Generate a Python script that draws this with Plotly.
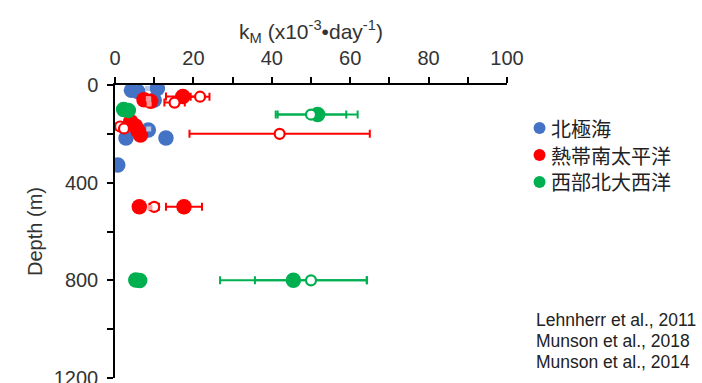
import plotly.graph_objects as go

# --- data -------------------------------------------------------------
# Arctic Ocean (北極海)
arctic_k = [4.2, 5.8, 10.8, 10.0, 8.5, 2.8, 13.0, 0.7]
arctic_depth = [22, 27, 14, 62, 184, 217, 217, 328]
arctic_sq_k = [8.3, 8.6, 8.6]
arctic_sq_depth = [14, 58, 180]

# Tropical South Pacific (熱帯南太平洋)
pac_k = [17.3, 7.4, 9.1, 4.0, 5.2, 5.9, 6.5, 6.2, 17.6]
pac_depth = [47, 60, 67, 150, 168, 188, 205, 499, 499]
pac_err = [4.3, 0, 0, 0, 0, 0, 0, 0, 4.6]
pac_open_k = [21.7, 15.2, 1.3, 2.3, 42.0, 10.0]
pac_open_depth = [48, 72, 170, 178, 200, 499]
pac_open_err = [2.4, 2.6, 1.0, 1.0, 23.0, 1.2]
pac_sq_k = [8.5, 8.7, 8.9]
pac_sq_depth = [56, 78, 502]

# Western North Atlantic (西部北大西洋)
atl_k = [2.2, 3.4, 51.7, 5.3, 6.3, 45.5]
atl_depth = [100, 104, 121, 799, 801, 800]
atl_err = [0, 0, 10.2, 0, 0, 18.7]
atl_open_k = [50.0, 50.0]
atl_open_depth = [121, 800]
atl_open_err = [9.0, 14.3]

names = ["北極海", "熱帯南太平洋", "西部北大西洋"]
colors = ["#4472C4", "#FF0000", "#00B050"]
light = ["#B4C7E7", "#FF9B9B", "#9ED9B5"]
refs = ["Lehnherr et al., 2011", "Munson et al., 2018", "Munson et al., 2014"]

x_ticks = [0, 20, 40, 60, 80, 100]
y_ticks = [0, 400, 800, 1200]

fig = go.Figure()


def err(arr, color):
    return dict(type="data", array=arr, visible=True, color=color,
                thickness=2, width=4)


def filled(x, y, color, e=None):
    fig.add_trace(go.Scatter(
        x=x, y=y, mode="markers", showlegend=False,
        marker=dict(size=15.5, color=color, line=dict(width=0)),
        error_x=err(e, color) if e else None))


def hollow(x, y, color, e):
    fig.add_trace(go.Scatter(
        x=x, y=y, mode="markers", showlegend=False,
        marker=dict(size=10, color="white", line=dict(width=2.2, color=color)),
        error_x=err(e, color)))


def squares(x, y, color):
    fig.add_trace(go.Scatter(
        x=x, y=y, mode="markers", showlegend=False,
        marker=dict(size=5, symbol="square", color=color, line=dict(width=0))))


filled(arctic_k, arctic_depth, colors[0])
filled(pac_k, pac_depth, colors[1], pac_err)
hollow(pac_open_k, pac_open_depth, colors[1], pac_open_err)
filled(atl_k, atl_depth, colors[2], atl_err)
hollow(atl_open_k, atl_open_depth, colors[2], atl_open_err)
squares(arctic_sq_k, arctic_sq_depth, light[0])
squares(pac_sq_k, pac_sq_depth, light[1])

# legend: coloured dot + region name, placed to the right of the axes
leg_x = 1.083          # paper x of the dot centres
leg_y0, leg_dy = 0.853, 0.092
for i, (name, c) in enumerate(zip(names, colors)):
    yy = leg_y0 - i * leg_dy
    fig.add_shape(type="circle", xref="paper", yref="paper",
                  xsizemode="pixel", ysizemode="pixel",
                  xanchor=leg_x, yanchor=yy, x0=-6, x1=6, y0=-6, y1=6,
                  fillcolor=c, line=dict(width=0))
    fig.add_annotation(
        text=name, xref="paper", yref="paper", x=leg_x, xshift=9, y=yy,
        xanchor="left", yanchor="middle", showarrow=False,
        font=dict(family="Noto Sans CJK JP", size=20, color="#222"))

# reference list
for i, r in enumerate(refs):
    fig.add_annotation(
        text=r, xref="paper", yref="paper", x=1.07, y=0.198 - i * 0.0715,
        xanchor="left", yanchor="middle", showarrow=False,
        font=dict(family="Liberation Sans, Arial", size=17.5, color="#222"))

axis_font = dict(family="Liberation Sans, Arial", size=20, color="#333")

fig.update_layout(
    width=702, height=383,
    margin=dict(l=115, r=195, t=85, b=5),
    paper_bgcolor="white", plot_bgcolor="white",
    font=axis_font,
    showlegend=False,
    xaxis=dict(
        side="top", range=[0, 100], tickvals=x_ticks,
        ticks="outside", ticklen=6, tickwidth=1.5, tickcolor="black",
        minor=dict(dtick=10, ticks="outside", ticklen=6, tickwidth=1.5,
                   tickcolor="black"),
        showline=True, linecolor="black", linewidth=1.5,
        showgrid=False, zeroline=False, tickfont=axis_font,
        ticklabelstandoff=4, automargin=False,
        title=dict(text="k<sub>M</sub> (x10<sup>-3</sup>•day<sup>-1</sup>)",
                   font=dict(family="Liberation Sans, Arial", size=21,
                             color="#333"), standoff=2)),
    yaxis=dict(
        range=[1200, 0], tickvals=y_ticks,
        ticks="outside", ticklen=6, tickwidth=1.5, tickcolor="black",
        minor=dict(dtick=200, ticks="outside", ticklen=6, tickwidth=1.5,
                   tickcolor="black"),
        showline=True, linecolor="black", linewidth=1.5,
        showgrid=False, zeroline=False, tickfont=axis_font,
        ticklabelstandoff=5, ticklabeloverflow="allow", automargin=False,
        title=dict(text="Depth (m)", font=axis_font, standoff=6)),
)

fig.write_html("out.html")
